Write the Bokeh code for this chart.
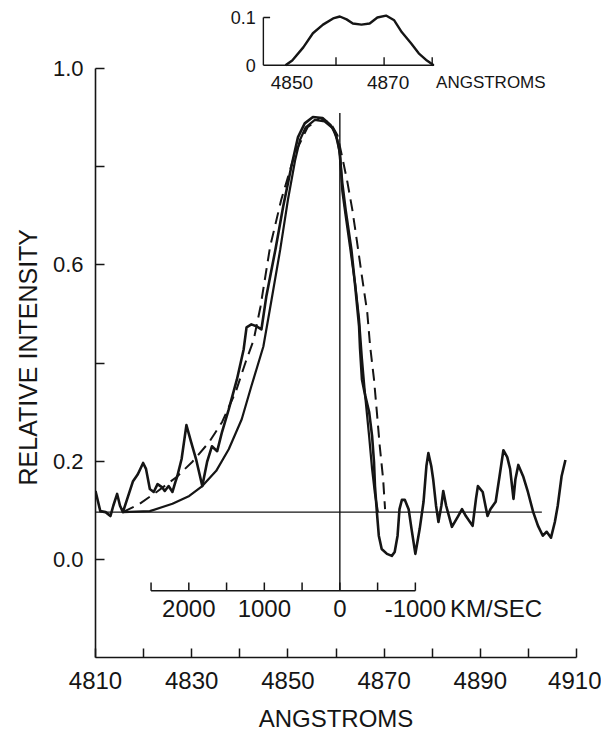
import math
from bokeh.plotting import figure
from bokeh.models import Range1d, FixedTicker, PrintfTickFormatter, Title, ColumnDataSource
from bokeh.core.properties import value
from bokeh.embed import file_html
from bokeh.resources import INLINE

# ---------------- data (wavelength in Angstrom, relative intensity) ----------------
obs_wl = [4810.0, 4811.0, 4812.1, 4813.1, 4813.7, 4814.5, 4815.1, 4815.7, 4816.8, 4817.8,
          4818.8, 4819.9, 4820.5, 4821.3, 4822.1, 4822.9, 4823.8, 4824.4, 4825.2, 4826.0,
          4826.6, 4827.0, 4827.9, 4828.9, 4829.9, 4830.9, 4832.2, 4833.2, 4834.2, 4835.3,
          4836.3, 4837.7, 4839.4, 4840.8, 4841.4, 4842.4, 4843.5, 4844.5, 4845.5, 4847.4,
          4849.0, 4850.7, 4852.1, 4853.5, 4855.2, 4857.2, 4858.9, 4859.9, 4860.7, 4861.3,
          4862.0, 4863.2, 4864.0, 4864.8, 4865.0, 4865.4, 4866.1, 4866.9, 4867.5, 4867.9,
          4868.1, 4868.5, 4868.9, 4869.5, 4870.6, 4871.6, 4872.2, 4872.8, 4873.2, 4873.7,
          4874.3, 4875.1, 4875.7, 4876.5, 4877.4, 4878.2, 4878.8, 4879.2, 4879.8, 4880.2,
          4880.8, 4881.3, 4881.9, 4882.3, 4882.9, 4884.1, 4885.4, 4886.2, 4887.0, 4888.4,
          4889.1, 4889.5, 4890.5, 4891.5, 4892.1, 4893.2, 4894.0, 4894.8, 4895.6, 4896.2,
          4896.9, 4897.3, 4897.9, 4898.9, 4899.9, 4901.0, 4902.0, 4903.0, 4903.8, 4904.7,
          4905.5, 4906.1, 4906.9, 4907.7]
obs_int = [0.140, 0.099, 0.097, 0.089, 0.110, 0.134, 0.110, 0.097, 0.130, 0.160,
           0.174, 0.197, 0.185, 0.144, 0.138, 0.154, 0.148, 0.140, 0.150, 0.138,
           0.158, 0.170, 0.205, 0.274, 0.239, 0.205, 0.150, 0.199, 0.231, 0.221,
           0.260, 0.306, 0.367, 0.428, 0.473, 0.479, 0.475, 0.469, 0.535, 0.631,
           0.718, 0.799, 0.860, 0.888, 0.901, 0.899, 0.884, 0.868, 0.834, 0.767,
           0.712, 0.631, 0.556, 0.475, 0.430, 0.367, 0.333, 0.300, 0.252, 0.199,
           0.150, 0.097, 0.049, 0.022, 0.012, 0.008, 0.016, 0.049, 0.103, 0.122,
           0.122, 0.103, 0.063, 0.012, 0.063, 0.118, 0.191, 0.217, 0.191, 0.164,
           0.110, 0.077, 0.110, 0.140, 0.110, 0.067, 0.089, 0.103, 0.089, 0.069,
           0.124, 0.150, 0.138, 0.089, 0.103, 0.118, 0.170, 0.223, 0.209, 0.185,
           0.124, 0.164, 0.193, 0.170, 0.138, 0.097, 0.069, 0.049, 0.057, 0.045,
           0.077, 0.110, 0.170, 0.203]

model_wl = [4815.7, 4821.3, 4826.0, 4829.5, 4832.2, 4835.1, 4837.7, 4840.4, 4842.4, 4844.9,
            4846.6, 4848.4, 4850.0, 4851.5, 4852.5, 4853.7, 4855.6, 4857.6, 4859.3, 4860.3,
            4860.9, 4861.3, 4862.0, 4863.0, 4864.0, 4864.8, 4865.4, 4866.1, 4866.9, 4867.5,
            4868.1, 4868.7]
model_int = [0.097, 0.099, 0.114, 0.130, 0.150, 0.181, 0.225, 0.286, 0.353, 0.434,
             0.529, 0.631, 0.732, 0.813, 0.854, 0.880, 0.895, 0.892, 0.878, 0.854,
             0.819, 0.750, 0.700, 0.630, 0.560, 0.490, 0.410, 0.330, 0.250, 0.185,
             0.134, 0.097]

dashed_wl = [4815.7, 4819.2, 4822.7, 4826.8, 4830.1, 4833.6, 4836.3, 4839.2, 4841.2, 4842.9,
             4844.3, 4846.3, 4848.6, 4851.5, 4854.1, 4856.6, 4858.9, 4860.3, 4861.3, 4862.4,
             4863.4, 4864.4, 4865.4, 4866.5, 4867.1, 4867.9, 4868.5, 4869.1, 4869.8, 4870.2]
dashed_int = [0.097, 0.114, 0.138, 0.168, 0.199, 0.239, 0.280, 0.343, 0.402, 0.448,
              0.515, 0.637, 0.732, 0.828, 0.880, 0.899, 0.888, 0.864, 0.819, 0.767,
              0.712, 0.645, 0.576, 0.503, 0.434, 0.367, 0.300, 0.231, 0.164, 0.103]

inset_wl = [4849.5, 4850.9, 4853.2, 4855.2, 4857.3, 4859.4, 4860.8, 4862.2, 4863.5, 4865.3,
            4867.0, 4868.6, 4870.4, 4872.1, 4873.7, 4875.6, 4877.2, 4878.9, 4880.3]
inset_int = [0.000, 0.010, 0.0375, 0.067, 0.085, 0.098, 0.102, 0.096, 0.0875, 0.085,
             0.0875, 0.100, 0.104, 0.094, 0.069, 0.046, 0.025, 0.010, 0.000]

continuum_level = 0.097
continuum_wl = [4810.0, 4902.8]
line_center = 4860.8          # zero velocity (H-beta)
line_marker_top = 0.909
vel_axis_level = -0.063
vel_ticks = [2500, 2000, 1500, 1000, 500, 0, -500, -1000]
vel_labels = [2000, 1000, 0, -1000]
ang_per_kms = 0.0157

x_major = [4810, 4830, 4850, 4870, 4890, 4910]
x_minor = [4820, 4840, 4860, 4880, 4900]
y_major = [0.0, 0.2, 0.6, 1.0]
y_minor = [0.4, 0.8]

inset_left = 4844.9
inset_right = 4880.4
inset_xticks = [4860, 4870, 4880]
inset_xlabels = [4850, 4870]
inset_ylabels = [0.1, 0.0]

FONT = "Liberation Sans"
INK = "#151515"

# ---------------- figure ----------------
p = figure(width=601, height=734, output_backend="svg", toolbar_location=None,
           x_range=Range1d(4810, 4910), y_range=Range1d(-0.1988, 1.1278),
           min_border_left=95, min_border_right=25, min_border_top=5, min_border_bottom=75)
p.extra_y_ranges = {"inset": Range1d(-1.2375, 0.125)}
p.outline_line_color = None
p.grid.visible = False
p.background_fill_color = "white"
p.border_fill_color = "white"

# axes
xa = p.xaxis[0]
xa.ticker = FixedTicker(ticks=x_major, minor_ticks=x_minor)
xa.formatter = PrintfTickFormatter(format="%d")
xa.axis_label = "ANGSTROMS"
ya = p.yaxis[0]
ya.ticker = FixedTicker(ticks=y_major, minor_ticks=y_minor)
ya.formatter = PrintfTickFormatter(format="%.1f")
ya.bounds = (-0.2, 1.0)
for ax in (xa, ya):
    ax.axis_line_color = INK
    ax.axis_line_width = 1.6
    ax.major_tick_line_color = INK
    ax.minor_tick_line_color = INK
    ax.major_tick_line_width = 1.5
    ax.minor_tick_line_width = 1.5
    ax.major_tick_in = 9
    ax.major_tick_out = 0
    ax.minor_tick_in = 9
    ax.minor_tick_out = 0
    ax.major_label_text_font = FONT
    ax.major_label_text_color = INK
    ax.axis_label_text_font = FONT
    ax.axis_label_text_font_style = "normal"
    ax.axis_label_text_color = INK
xa.major_label_text_font_size = "24px"
xa.major_label_standoff = 14
xa.axis_label_text_font_size = "24px"
xa.axis_label_standoff = 13
ya.major_label_text_font_size = "22px"
ya.major_label_standoff = 12

# y-axis title placed as a side title so that it can sit where the original has it
ytitle = Title(text="RELATIVE INTENSITY", align="left", offset=172, standoff=16,
               text_font=FONT, text_font_size="25px", text_font_style="normal",
               text_color=INK)
p.add_layout(ytitle, "left")

# continuum and line-centre marker
p.line(continuum_wl, [continuum_level, continuum_level], line_color=INK, line_width=1.4)
p.segment(x0=[line_center], y0=[vel_axis_level], x1=[line_center], y1=[line_marker_top],
          line_color=INK, line_width=1.4)

# profiles
p.line(dashed_wl, dashed_int, line_color=INK, line_width=2.0, line_dash="12 7")
p.line(model_wl, model_int, line_color=INK, line_width=2.2)
p.line(obs_wl, obs_int, line_color=INK, line_width=2.6, line_join="round")

# velocity scale
vel_x = [line_center - v * ang_per_kms for v in vel_ticks]
p.segment(x0=[min(vel_x)], y0=[vel_axis_level], x1=[max(vel_x)], y1=[vel_axis_level],
          line_color=INK, line_width=1.5)
p.segment(x0=vel_x, y0=[vel_axis_level] * len(vel_x), x1=vel_x,
          y1=[vel_axis_level + 0.017] * len(vel_x), line_color=INK, line_width=1.5)
vsrc = ColumnDataSource(dict(x=[line_center - v * ang_per_kms for v in vel_labels],
                             y=[-0.0994] * len(vel_labels),
                             t=[str(v) for v in vel_labels]))
p.text(x="x", y="y", text="t", source=vsrc, text_align="center", text_baseline="middle",
       text_font=value(FONT), text_font_size="24px", text_color=INK)
p.text(x=[line_center - (-1000) * ang_per_kms + 7.2], y=[-0.0994], text=["KM/SEC"],
       text_align="left", text_baseline="middle",
       text_font=value(FONT), text_font_size="24px", text_color=INK)

# ---------------- inset (integrated profile) ----------------
p.line(inset_wl, inset_int, y_range_name="inset", line_color=INK, line_width=2.4)
p.segment(x0=[inset_left], y0=[0.0], x1=[inset_right], y1=[0.0], y_range_name="inset",
          line_color=INK, line_width=1.4)
p.segment(x0=[inset_left], y0=[0.0], x1=[inset_left], y1=[0.1], y_range_name="inset",
          line_color=INK, line_width=1.4)
p.segment(x0=[inset_left], y0=[0.1], x1=[inset_left + 1.4], y1=[0.1], y_range_name="inset",
          line_color=INK, line_width=1.4)
p.segment(x0=inset_xticks, y0=[0.0] * len(inset_xticks), x1=inset_xticks,
          y1=[0.017] * len(inset_xticks), y_range_name="inset", line_color=INK, line_width=1.4)
isrc = ColumnDataSource(dict(x=inset_xlabels, y=[-0.035] * len(inset_xlabels),
                             t=[str(v) for v in inset_xlabels]))
p.text(x="x", y="y", text="t", source=isrc, y_range_name="inset", x_offset=4,
       text_align="center", text_baseline="middle",
       text_font=value(FONT), text_font_size="19px", text_color=INK)
p.text(x=[inset_right + 0.4], y=[-0.035], text=["ANGSTROMS"], y_range_name="inset",
       text_align="left", text_baseline="middle",
       text_font=value(FONT), text_font_size="17px", text_color=INK)
ysrc = ColumnDataSource(dict(x=[inset_left - 1.6] * len(inset_ylabels), y=inset_ylabels,
                             t=["0.1" if v else "0" for v in inset_ylabels]))
p.text(x="x", y="y", text="t", source=ysrc, y_range_name="inset",
       text_align="right", text_baseline="middle",
       text_font=value(FONT), text_font_size="18px", text_color=INK)

open("out.html", "w").write(file_html(p, INLINE))
